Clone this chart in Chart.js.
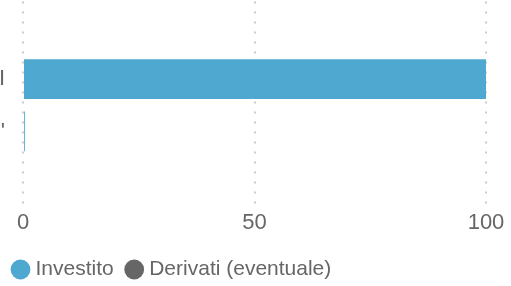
<!DOCTYPE html>
<html>
<head>
<meta charset="utf-8">
<script src="https://cdn.jsdelivr.net/npm/chart.js@4/dist/chart.umd.min.js"></script>
<style>
  html, body { margin: 0; padding: 0; background: #fff; }
  #wrap { width: 511px; height: 286px; }
</style>
</head>
<body>
<div id="wrap"><canvas id="chart"></canvas></div>
<script>
// dati del grafico
var categorie = ['', 'Capitale I', "Un po'", ''];
var investito = [null, 100, 0.4, null];
var derivati = [null, 0, 0, null];
var tickX = [0, 50, 100];

var grigio = '#666666';
var blu = '#4fa8cf';

var chart = new Chart(document.getElementById('chart'), {
    type: 'bar',
    data: {
        labels: categorie,
        datasets: [{
            label: 'Investito',
            data: investito,
            backgroundColor: blu
        }, {
            label: 'Derivati (eventuale)',
            data: derivati,
            backgroundColor: grigio
        }]
    },
    options: {
        indexAxis: 'y',
        responsive: true,
        maintainAspectRatio: false,
        animation: false,
        categoryPercentage: 0.8,
        barPercentage: 0.95,
        layout: { padding: { top: 0, right: 25, left: 0, bottom: -4 } },
        plugins: {
            tooltip: { enabled: false },
            legend: {
                position: 'bottom',
                align: 'start',
                labels: {
                    usePointStyle: true,
                    pointStyle: 'circle',
                    boxWidth: 9,
                    boxHeight: 14,
                    padding: 16,
                    color: grigio,
                    font: { family: 'Liberation Sans, Arial, sans-serif', size: 21 }
                }
            }
        },
        scales: {
            x: {
                stacked: true,
                min: 0,
                max: 100,
                afterBuildTicks: function (scale) {
                    scale.ticks = tickX.map(function (v) { return { value: v }; });
                },
                afterFit: function (scale) { scale.height = 33; },
                grid: {
                    color: '#cccccc',
                    lineWidth: 2,
                    drawTicks: false,
                    borderDash: [2, 8],
                    borderDashOffset: 9
                },
                border: { display: false, dash: [2, 8], dashOffset: 9 },
                ticks: {
                    color: grigio,
                    padding: 0,
                    maxRotation: 0,
                    font: { family: 'Liberation Sans, Arial, sans-serif', size: 22 }
                }
            },
            y: {
                stacked: true,
                afterFit: function (scale) { scale.width = 23; },
                grid: {
                    display: true,
                    drawOnChartArea: false,
                    drawTicks: true,
                    tickLength: 18,
                    tickColor: 'rgba(0,0,0,0)'
                },
                border: { display: false },
                ticks: {
                    color: grigio,
                    padding: 0,
                    // lineHeight minima: nessun margine sopra/sotto l'area
                    font: { family: 'Liberation Sans, Arial, sans-serif', size: 22, lineHeight: 0.05 }
                }
            }
        }
    }
});
</script>
</body>
</html>
